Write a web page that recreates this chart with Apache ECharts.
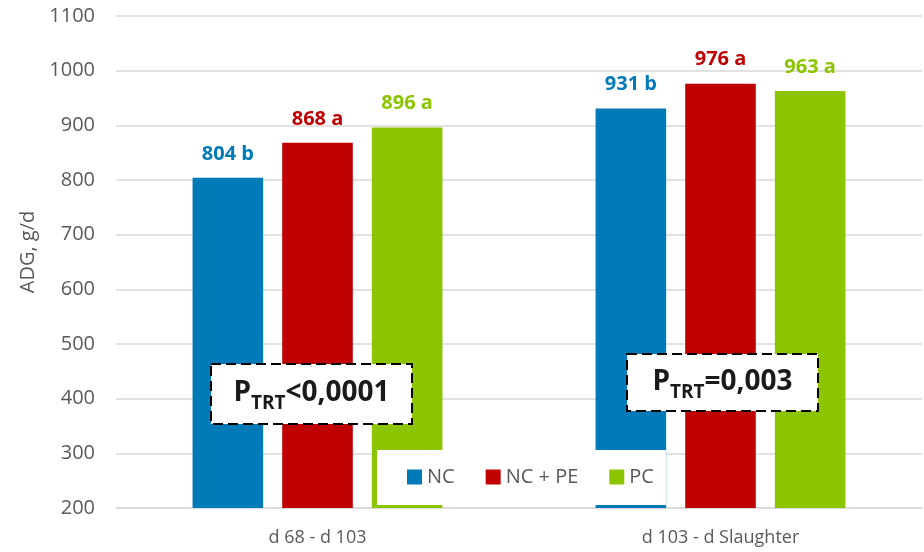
<!DOCTYPE html>
<html><head><meta charset="utf-8">
<script src="https://cdn.jsdelivr.net/npm/echarts@6/dist/echarts.min.js"></script>
<style>html,body{margin:0;padding:0;background:#fff}#c{width:924px;height:552px}</style>
</head><body><div id="c"></div>
<script>
const categories = ['d 68 - d 103', 'd 103 - d Slaughter'];
const seriesNames = ['NC', 'NC + PE', 'PC'];
const NC = [804, 931];
const NC_PE = [868, 976];
const PC = [896, 963];
const letters = [['b', 'b'], ['a', 'a'], ['a', 'a']];
const colors = ['#007BB8', '#C00000', '#8CC400'];
const yTicks = {min: 200, max: 1100, interval: 100};
const pTexts = ['<0,0001', '=0,003'];

const font = 'Open Sans';
const values = [NC, NC_PE, PC];
const chart = echarts.init(document.getElementById('c'));
function pBox(left, top, w, h, tail) {
  return {
    type: 'group', left: left, top: top, z: 100,
    children: [
      {type: 'rect', z: 100, shape: {x: 0, y: 0, width: w, height: h},
       style: {fill: '#fff', stroke: '#000', lineWidth: 2, lineDash: [10, 5]}},
      {type: 'text', z: 101, x: w / 2, y: h / 2 + 2.5,
       style: {text: '{m|P}{s|TRT}{m|' + tail + '}', align: 'center', verticalAlign: 'middle',
        rich: {
          m: {fontFamily: font, fontSize: 28, fontWeight: 'bold', fill: '#1a1a1a', lineHeight: 34, verticalAlign: 'top'},
          s: {fontFamily: font, fontSize: 19, fontWeight: 'bold', fill: '#1a1a1a', lineHeight: 19, padding: [20, 0, 0, 0], verticalAlign: 'bottom'}
        }}}
    ]
  };
}
chart.setOption({
  animation: false,
  grid: {left: 116, right: 2, top: 16, bottom: 44, containLabel: false},
  xAxis: {
    type: 'category', data: categories,
    axisTick: {show: false},
    axisLine: {lineStyle: {color: '#d9d9d9', width: 1.5}},
    axisLabel: {color: '#595959', fontFamily: font, fontSize: 18, margin: 21}
  },
  yAxis: {
    type: 'value', min: yTicks.min, max: yTicks.max, interval: yTicks.interval,
    name: 'ADG, g/d', nameLocation: 'middle', nameGap: 72, nameRotate: 90,
    nameTextStyle: {color: '#595959', fontFamily: font, fontSize: 20, padding: [0, 0, 0, 20]},
    axisLine: {show: false}, axisTick: {show: false},
    axisLabel: {color: '#595959', fontFamily: font, fontSize: 20, margin: 21, formatter: v => String(v)},
    splitLine: {lineStyle: {color: '#d9d9d9', width: 1.5}}
  },
  legend: {
    left: 377, top: 450,
    backgroundColor: '#fff', padding: [17, 12, 18, 30],
    itemWidth: 15, itemHeight: 15, itemGap: 31, icon: 'rect', z: 50,
    textStyle: {color: '#595959', fontFamily: font, fontSize: 20, lineHeight: 20},
    data: seriesNames
  },
  series: seriesNames.map((n, i) => ({
    name: n, type: 'bar', data: values[i],
    barGap: '27%', barCategoryGap: '38%',
    itemStyle: {color: colors[i]},
    label: {show: true, position: 'top', distance: 14, color: colors[i],
      fontFamily: font, fontSize: 20, fontWeight: 'bold',
      formatter: p => p.value + ' ' + letters[i][p.dataIndex]}
  })),
  graphic: [pBox(210, 363, 201, 60, pTexts[0]), pBox(626, 353, 191, 57, pTexts[1])]
});
</script></body></html>
